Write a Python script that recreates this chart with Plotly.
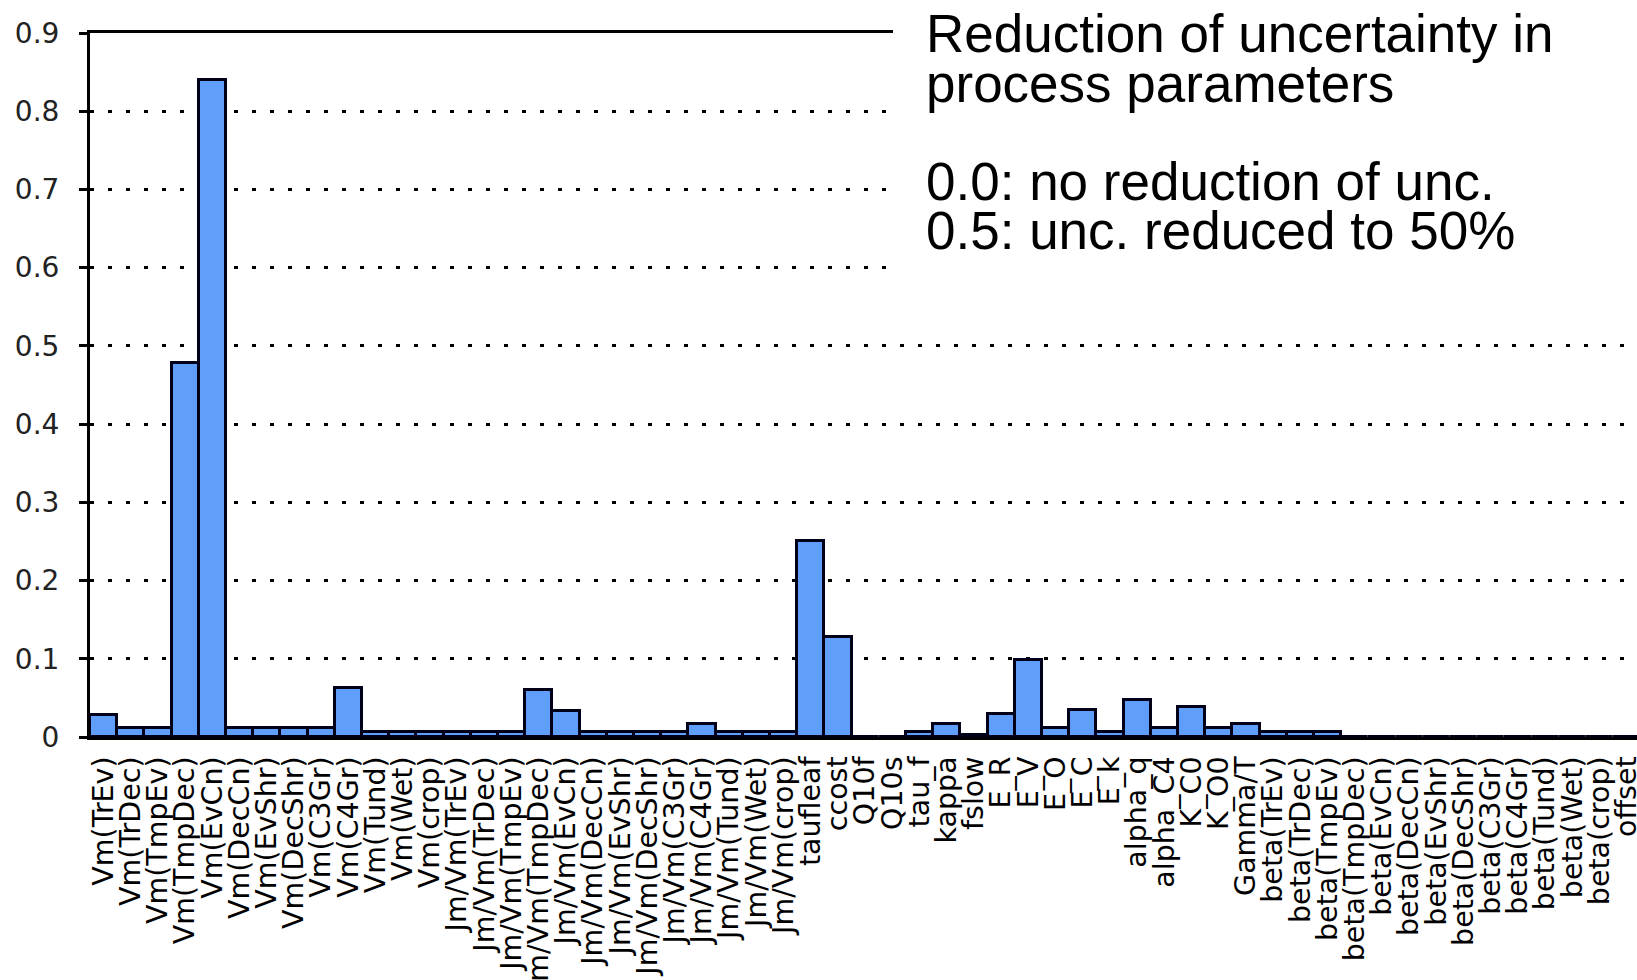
import plotly.graph_objects as go

categories = [
    "Vm(TrEv)", "Vm(TrDec)", "Vm(TmpEv)", "Vm(TmpDec)", "Vm(EvCn)", "Vm(DecCn)",
    "Vm(EvShr)", "Vm(DecShr)", "Vm(C3Gr)", "Vm(C4Gr)", "Vm(Tund)", "Vm(Wet)", "Vm(crop)",
    "Jm/Vm(TrEv)", "Jm/Vm(TrDec)", "Jm/Vm(TmpEv)", "Jm/Vm(TmpDec)", "Jm/Vm(EvCn)",
    "Jm/Vm(DecCn)", "Jm/Vm(EvShr)", "Jm/Vm(DecShr)", "Jm/Vm(C3Gr)", "Jm/Vm(C4Gr)",
    "Jm/Vm(Tund)", "Jm/Vm(Wet)", "Jm/Vm(crop)",
    "taufleaf", "ccost", "Q10f", "Q10s", "tau_f", "kappa", "fslow",
    "E_R", "E_V", "E_O", "E_C", "E_k", "alpha_q", "alpha_C4", "K_C0", "K_O0", "Gamma/T",
    "beta(TrEv)", "beta(TrDec)", "beta(TmpEv)", "beta(TmpDec)", "beta(EvCn)", "beta(DecCn)",
    "beta(EvShr)", "beta(DecShr)", "beta(C3Gr)", "beta(C4Gr)", "beta(Tund)", "beta(Wet)",
    "beta(crop)", "offset",
]

reduction = [
    0.028, 0.012, 0.012, 0.478, 0.840, 0.012,
    0.012, 0.012, 0.012, 0.063, 0.006, 0.006, 0.006,
    0.006, 0.006, 0.006, 0.060, 0.033,
    0.006, 0.006, 0.006, 0.006, 0.016,
    0.006, 0.006, 0.006,
    0.251, 0.128, 0.0, 0.0, 0.006, 0.017, 0.002,
    0.029, 0.099, 0.012, 0.034, 0.006, 0.047, 0.012, 0.038, 0.012, 0.016,
    0.006, 0.006, 0.006, 0.0, 0.0, 0.0,
    0.0, 0.0, 0.0, 0.0, 0.0, 0.0,
    0.0, 0.0,
]

y_ticks = [0, 0.1, 0.2, 0.3, 0.4, 0.5, 0.6, 0.7, 0.8, 0.9]
y_ticktext = ["0", "0.1", "0.2", "0.3", "0.4", "0.5", "0.6", "0.7", "0.8", "0.9"]

note_lines = [
    "Reduction of uncertainty in",
    "process parameters",
    "0.0: no reduction of unc.",
    "0.5: unc. reduced to 50%",
]
note_y = [0.899, 0.836, 0.710, 0.648]

fig = go.Figure()
fig.add_trace(go.Bar(
    x=categories,
    y=reduction,
    marker=dict(color="#5F9FFB", line=dict(color="#000018", width=3)),
    showlegend=False,
))

W, H = 1637, 980
ml, mt, mb = 90, 33, 243
plot_w = W - ml
catw = 27.2
x_hi = -0.5 + plot_w / catw

fig.update_layout(
    width=W, height=H,
    margin=dict(l=ml, r=0, t=mt, b=mb, pad=0),
    paper_bgcolor="white", plot_bgcolor="white",
    bargap=0,
    font=dict(family="DejaVu Sans", color="#111"),
    xaxis=dict(
        range=[-0.5, x_hi],
        tickmode="array", tickvals=categories, ticktext=categories,
        showline=True, linecolor="black", linewidth=3, mirror=True,
        showgrid=False, ticks="", tickangle=-90,
        tickfont=dict(family="DejaVu Sans", size=28.5, color="black"),
        ticklabelstandoff=5,
        automargin=False,
    ),
    yaxis=dict(
        range=[0, 0.9],
        tickvals=y_ticks, ticktext=y_ticktext,
        showline=True, linecolor="black", linewidth=3,
        ticks="outside", ticklen=8, tickwidth=3, tickcolor="black",
        showgrid=True, gridcolor="black", gridwidth=2.5, griddash="4px,14px",
        tickfont=dict(family="DejaVu Sans", size=28, color="#222"),
        ticklabelstandoff=14,
        zeroline=False,
        automargin=False,
    ),
)

box_x0 = (893 - ml) / plot_w
fig.add_shape(
    type="rect", xref="paper", yref="paper",
    x0=box_x0, x1=1.05, y0=0.56 / 0.9, y1=1.05,
    fillcolor="white", line=dict(width=0), layer="above",
)

text_x = (924 - ml) / plot_w
for txt, yy in zip(note_lines, note_y):
    fig.add_annotation(
        text=txt, xref="paper", yref="y", x=text_x, y=yy,
        xanchor="left", yanchor="middle", showarrow=False,
        font=dict(family="Liberation Sans", size=53, color="black"),
    )

fig.write_html(
    "out.html",
    config={"displayModeBar": False},
    post_script="document.body.style.margin='0px';document.body.style.overflow='hidden';",
)
